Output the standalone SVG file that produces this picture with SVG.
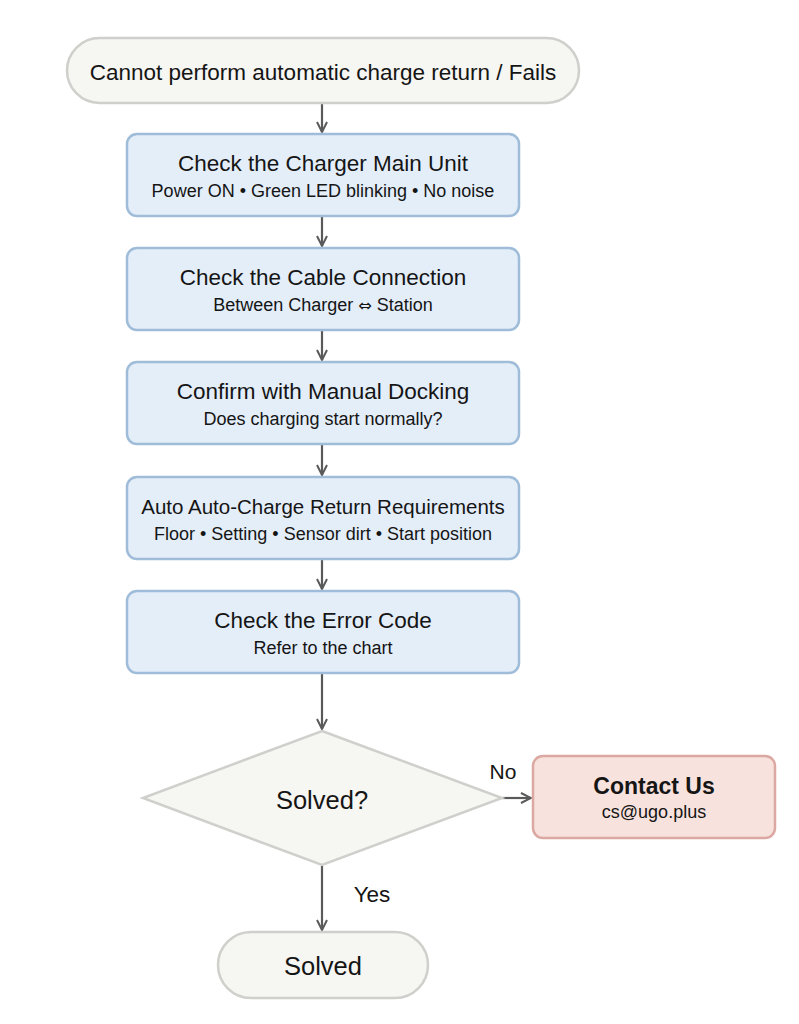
<svg xmlns="http://www.w3.org/2000/svg" width="799" height="1024" viewBox="0 0 799 1024">
<style>
text{font-family:"Liberation Sans",Arial,sans-serif;fill:#151515;text-anchor:middle}
.pill{fill:#f6f6f2;stroke:#cfcfcb;stroke-width:2.5}
.box{fill:#e4eef9;stroke:#9fbcd9;stroke-width:2.5}
.contact{fill:#f8e2dd;stroke:#dba9a2;stroke-width:2.5}
.t{font-size:22.5px}
.s{font-size:18px}
.conn{stroke:#5a5a5a;stroke-width:2.2;fill:none;marker-end:url(#ah)}
</style>
<defs>
<marker id="ah" viewBox="0 0 12 12" refX="11" refY="6" markerWidth="12" markerHeight="12" markerUnits="userSpaceOnUse" orient="auto">
<path d="M1,1 L11,6 L1,11" fill="none" stroke="#5a5a5a" stroke-width="2"/>
</marker>
</defs>
<rect width="799" height="1024" fill="#ffffff"/>
<g id="connectors">
<line class="conn" x1="322" y1="104" x2="322" y2="132"/>
<line class="conn" x1="322" y1="217" x2="322" y2="246"/>
<line class="conn" x1="322" y1="331" x2="322" y2="360"/>
<line class="conn" x1="322" y1="445" x2="322" y2="475"/>
<line class="conn" x1="322" y1="560" x2="322" y2="589"/>
<line class="conn" x1="322" y1="674" x2="322" y2="729"/>
<line class="conn" x1="502" y1="798" x2="531" y2="798"/>
<line class="conn" x1="322" y1="866" x2="322" y2="930"/>
<text x="503" y="779" style="font-size:21px">No</text>
<text x="372" y="902" style="font-size:22.5px">Yes</text>
</g>
<g id="start">
<rect class="pill" x="67" y="38" width="512" height="65" rx="32.5"/>
<text class="t" x="323" y="80">Cannot perform automatic charge return / Fails</text>
</g>
<g id="step1">
<rect class="box" x="127" y="134" width="392" height="82" rx="10"/>
<text class="t" x="323" y="171">Check the Charger Main Unit</text>
<text class="s" x="323" y="197">Power ON • Green LED blinking • No noise</text>
</g>
<g id="step2">
<rect class="box" x="127" y="248" width="392" height="82" rx="10"/>
<text class="t" x="323" y="285">Check the Cable Connection</text>
<text class="s" x="323" y="311">Between Charger <tspan style="font-family:'DejaVu Sans',sans-serif;font-size:16px">⇔</tspan> Station</text>
</g>
<g id="step3">
<rect class="box" x="127" y="362" width="392" height="82" rx="10"/>
<text class="t" x="323" y="399">Confirm with Manual Docking</text>
<text class="s" x="323" y="425">Does charging start normally?</text>
</g>
<g id="step4">
<rect class="box" x="127" y="477" width="392" height="82" rx="10"/>
<text x="323" y="514" style="font-size:20.5px">Auto Auto-Charge Return Requirements</text>
<text class="s" x="323" y="540">Floor • Setting • Sensor dirt • Start position</text>
</g>
<g id="step5">
<rect class="box" x="127" y="591" width="392" height="82" rx="10"/>
<text class="t" x="323" y="628">Check the Error Code</text>
<text class="s" x="323" y="654">Refer to the chart</text>
</g>
<g id="decision">
<polygon class="pill" points="322,731 502,798 322,865 143,798"/>
<text x="322" y="809" style="font-size:25.5px">Solved?</text>
</g>
<g id="contact">
<rect class="contact" x="533" y="756" width="242" height="82" rx="10"/>
<text x="654" y="794" style="font-size:23px;font-weight:bold">Contact Us</text>
<text class="s" x="654" y="818">cs@ugo.plus</text>
</g>
<g id="solved">
<rect class="pill" x="218" y="932" width="210" height="66" rx="33"/>
<text x="323" y="975" style="font-size:25.5px">Solved</text>
</g>
</svg>
